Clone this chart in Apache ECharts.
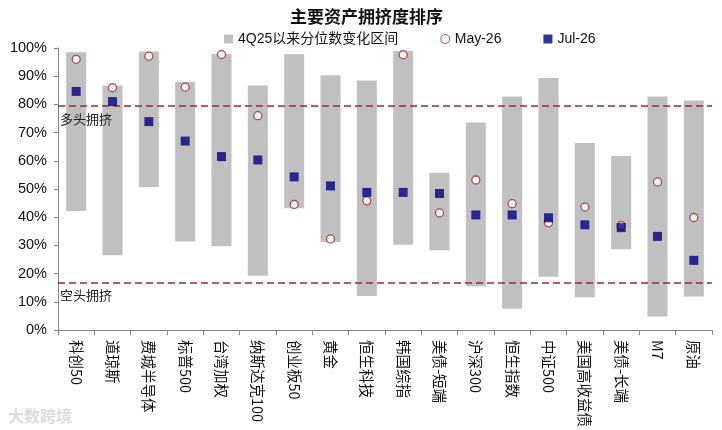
<!DOCTYPE html>
<html lang="zh">
<head>
<meta charset="UTF-8">
<title>主要资产拥挤度排序</title>
<script src="https://cdn.jsdelivr.net/npm/echarts@6/dist/echarts.min.js"></script>
<style>
  html, body { margin: 0; padding: 0; background: #fff; }
  #main { width: 722px; height: 430px; }
</style>
</head>
<body>
<div id="main"></div>
<script>
// categories and values (percent)
const assets = ['科创50', '道琼斯', '费城半导体', '标普500', '台湾加权', '纳斯达克100', '创业板50', '黄金', '恒生科技',
  '韩国综指', '美债-短端', '沪深300', '恒生指数', '中证500', '美国高收益债', '美债-长端', 'M7', '原油'];
const rangeLow  = [42.2, 26.5, 50.7, 31.4, 29.7, 19.2, 43.2, 31.2, 12.1, 30.2, 28.3, 15.5, 7.5, 18.9, 11.6, 28.6, 4.8, 11.9];
const rangeHigh = [98.5, 86.7, 98.8, 87.9, 97.9, 86.7, 97.8, 90.3, 88.5, 98.9, 55.8, 73.6, 82.8, 89.4, 66.3, 61.7, 82.8, 81.4];
const may26 = [96.0, 85.9, 97.1, 86.1, 97.7, 76.0, 44.5, 32.3, 45.8, 97.6, 41.5, 53.2, 44.8, 38.0, 43.6, 37.0, 52.5, 39.9];
const jul26 = [84.6, 81.0, 73.9, 67.0, 61.5, 60.3, 54.3, 51.1, 48.8, 48.8, 48.4, 40.8, 40.8, 39.8, 37.3, 36.3, 33.2, 24.7];
const longCrowded = 79.4;
const shortCrowded = 16.7;
const yTicks = { min: 0, max: 100, step: 10 };

const font = '"Liberation Sans", "Noto Sans CJK SC", sans-serif';
const cjk = '"Noto Sans CJK SC", sans-serif';
const rangeSpan = rangeHigh.map((h, i) => +(h - rangeLow[i]).toFixed(1));

const chart = echarts.init(document.getElementById('main'));
chart.setOption({
  animation: false,
  textStyle: { fontFamily: font },
  title: {
    text: '主要资产拥挤度排序',
    left: 285, top: 3,
    textStyle: { fontFamily: cjk, fontSize: 17, fontWeight: 'bold', color: '#111' }
  },
  legend: {
    top: 27, left: 219, itemGap: 42, itemWidth: 9, itemHeight: 9,
    textStyle: { fontSize: 14, color: '#111', fontFamily: font },
    data: [
      { name: '4Q25以来分位数变化区间', icon: 'rect' },
      { name: 'May-26', icon: 'circle', itemStyle: { borderWidth: 1 } },
      { name: 'Jul-26', icon: 'rect' }
    ]
  },
  grid: { left: 58, right: 10, top: 48, bottom: 99 },
  xAxis: {
    type: 'category',
    data: assets,
    axisLine: { lineStyle: { color: '#8a8a8a' } },
    axisTick: { show: true, length: 5, lineStyle: { color: '#8a8a8a' } },
    axisLabel: { rotate: -90, margin: 10, fontSize: 14.5, color: '#111', interval: 0, fontFamily: cjk }
  },
  yAxis: {
    type: 'value', min: yTicks.min, max: yTicks.max, interval: yTicks.step,
    splitLine: { show: false },
    axisLine: { show: true, lineStyle: { color: '#8a8a8a' } },
    axisTick: { show: true, length: 4, lineStyle: { color: '#8a8a8a' } },
    axisLabel: { formatter: '{value}%', fontSize: 14.5, color: '#111', margin: 11 }
  },
  graphic: [{
    type: 'text', left: 8, bottom: 6,
    style: { text: '大数跨境', fontSize: 16, fontWeight: 'bold', fill: 'rgba(190,190,190,0.55)', fontFamily: cjk }
  }],
  series: [
    {
      name: 'base', type: 'bar', stack: 'range', barWidth: 20,
      itemStyle: { color: 'transparent' },
      data: rangeLow,
      markLine: {
        silent: true, symbol: 'none',
        lineStyle: { color: '#9e2a2a', type: [7, 4], width: 1.5 },
        label: { position: 'insideStartBottom', fontSize: 13, color: '#222', fontFamily: cjk, distance: [2, 6] },
        data: [
          { yAxis: longCrowded, label: { formatter: '多头拥挤' } },
          { yAxis: shortCrowded, label: { formatter: '空头拥挤' } }
        ]
      }
    },
    {
      name: '4Q25以来分位数变化区间', type: 'bar', stack: 'range', barWidth: 20,
      itemStyle: { color: '#c0c0c0' },
      data: rangeSpan
    },
    {
      name: 'May-26', type: 'scatter', symbol: 'circle', symbolSize: 8, z: 5,
      itemStyle: { color: '#fff', borderColor: '#9e2a2a', borderWidth: 1.3 },
      data: may26
    },
    {
      name: 'Jul-26', type: 'scatter', symbol: 'rect', symbolSize: 9, z: 6,
      itemStyle: { color: '#000080' },
      data: jul26
    }
  ]
});
</script>
</body>
</html>
